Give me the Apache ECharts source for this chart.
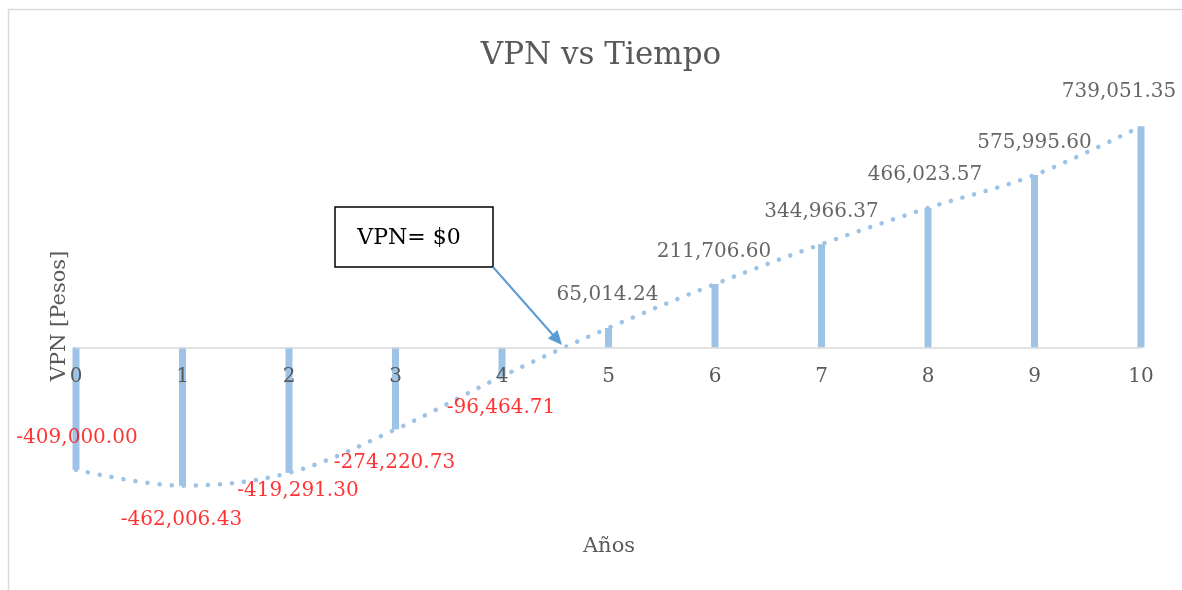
<!DOCTYPE html>
<html>
<head>
<meta charset="utf-8">
<script src="https://cdn.jsdelivr.net/npm/echarts@6/dist/echarts.min.js"></script>
<style>html,body{margin:0;padding:0;background:#fff}#c{width:1182px;height:590px}</style>
</head>
<body>
<div id="c"></div>
<script>
var years = [0, 1, 2, 3, 4, 5, 6, 7, 8, 9, 10];
var vpn = [-409000.00, -462006.43, -419291.30, -274220.73, -96464.71, 65014.24, 211706.60, 344966.37, 466023.57, 575995.60, 739051.35];
var titleText = 'VPN vs Tiempo';
var xName = 'Años';
var yName = 'VPN [Pesos]';
var noteText = 'VPN= $0';

// label placement (style only): pixel offsets from the bar end
var labelOffsets = [[1,-32],[-1,34],[9,18],[-1,33],[-1,32],[-1,-33],[-1,-32],[0,-32],[-3,-33],[0,-32],[-22,-34]];

var FONT = 'DejaVu Serif';
var BLUE = '#9DC3E6';

function fmt(v){
  return v.toLocaleString('en-US',{minimumFractionDigits:2, maximumFractionDigits:2});
}

var pts = years.map(function(x,i){ return [x, vpn[i]]; });

var labelData = pts.map(function(p,i){
  return {
    value: p,
    label: {
      offset: labelOffsets[i],
      color: p[1] < 0 ? '#FF0000' : '#404040'
    }
  };
});

var Y_MIN = -500000, Y_MAX = 800000;
var GRID_TOP = 108, GRID_BOTTOM = 93, H = 590;
var plotH = H - GRID_TOP - GRID_BOTTOM;
var zeroShift = plotH * (0 - Y_MIN) / (Y_MAX - Y_MIN);

var chart = echarts.init(document.getElementById('c'), null, {renderer:'canvas'});
chart.setOption({
  animation: false,
  backgroundColor: '#ffffff',
  title: {
    text: titleText,
    left: 596,
    top: 35,
    textAlign: 'center',
    textStyle: {fontFamily: FONT, fontSize: 31, fontWeight: 'normal', color: '#595959'}
  },
  grid: {left: 76, right: 41, top: GRID_TOP, bottom: GRID_BOTTOM},
  xAxis: {
    type: 'value',
    min: 0, max: 10, interval: 1,
    offset: -zeroShift,
    z: 10,
    axisLine: {show: true, onZero: false, lineStyle: {color: '#D9D9D9', width: 1.5}},
    axisTick: {show: false},
    splitLine: {show: false},
    axisLabel: {color: '#595959', fontFamily: FONT, fontSize: 20, margin: 19}
  },
  yAxis: {
    type: 'value',
    min: Y_MIN, max: Y_MAX,
    axisLine: {show: false},
    axisTick: {show: false},
    axisLabel: {show: false},
    splitLine: {show: false}
  },
  series: [
    {
      type: 'bar',
      data: pts,
      barWidth: 7,
      clip: true,
      itemStyle: {color: BLUE},
      z: 2
    },
    {
      type: 'line',
      data: pts,
      smooth: 0.35,
      symbol: 'none',
      lineStyle: {color: BLUE, width: 4.5, type: [0.1, 12], cap: 'round'},
      z: 3
    },
    {
      type: 'scatter',
      data: labelData,
      symbolSize: 0,
      silent: true,
      label: {
        show: true,
        position: 'inside',
        fontFamily: FONT,
        fontSize: 20,
        formatter: function(p){ return fmt(p.value[1]); }
      },
      z: 5
    }
  ],
  graphic: [
    {type:'rect', shape:{x:8.5, y:9.5, width:1300, height:700}, style:{fill:'none', stroke:'#D9D9D9', lineWidth:1.5}, silent:true, z:0},
    {type:'text', x:609, y:547, style:{text:xName, fontFamily:FONT, fontSize:21, fill:'#595959', textAlign:'center', textVerticalAlign:'middle'}},
    {type:'text', x:60, y:316, rotation:Math.PI/2, style:{text:yName, fontFamily:FONT, fontSize:21, fill:'#595959', textAlign:'center', textVerticalAlign:'middle'}},
    {type:'rect', shape:{x:335, y:207, width:158, height:60}, style:{fill:'#ffffff', stroke:'#000000', lineWidth:1.5}, z:10},
    {type:'text', x:409, y:238, style:{text:noteText, fontFamily:FONT, fontSize:22, fill:'#000000', textAlign:'center', textVerticalAlign:'middle'}, z:11},
    {type:'line', shape:{x1:493, y1:267, x2:553, y2:335}, style:{stroke:'#5B9BD5', lineWidth:2}, z:10},
    {type:'polygon', shape:{points:[[562,345],[548,338.5],[557.5,330]]}, style:{fill:'#5B9BD5'}, z:10}
  ]
});
</script>
</body>
</html>
